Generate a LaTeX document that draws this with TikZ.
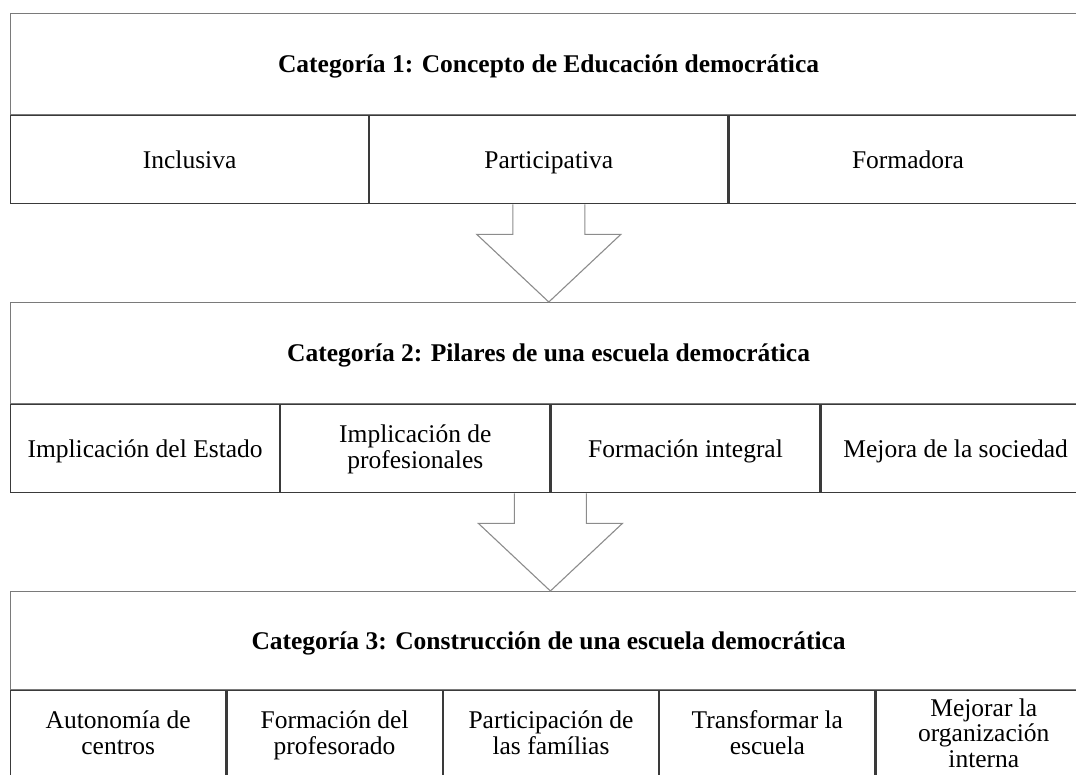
\documentclass[tikz,border=0pt]{standalone}
\usepackage{fontspec}
\setmainfont{Liberation Serif}
\usetikzlibrary{calc}
\definecolor{framegray}{HTML}{7A7A7A}
\definecolor{celldark}{HTML}{3A3A3A}
\definecolor{arrowgray}{HTML}{8C8C8C}
\newcommand{\lstrut}{\rule[-6pt]{0pt}{25.5pt}}
\begin{document}
\begin{tikzpicture}[x=1pt,y=-1pt,
  every node/.style={inner sep=0pt},
  titlebox/.style={draw=framegray, line width=1.2pt, anchor=north west,
    minimum width=1076pt, minimum height=101pt,
    text height=23pt, text depth=6pt,
    font=\fontsize{25.5}{25.5}\selectfont\bfseries},
  cell/.style={draw=celldark, line width=1.2pt, anchor=north west,
    minimum height=88pt, align=center,
    font=\fontsize{25.5}{25.5}\selectfont},
  oneline/.style={text height=23pt, text depth=6pt},
  blockarrow/.style={draw=arrowgray, line width=1.1pt, line join=miter}]
\useasboundingbox (0,0) rectangle (1076,775);
\clip (0,0) rectangle (1076,775);

% Category 1
\node[titlebox] (t1) at (10,13) {Categoría 1: Concepto de Educación democrática};
\node[cell, oneline, minimum width=358pt] (c11) at (t1.south west) {Inclusiva};
\node[cell, oneline, minimum width=358pt] (c12) at (c11.north east) {Participativa};
\node[cell, oneline, minimum width=358pt] (c13) at (c12.north east) {Formadora};

% Category 2
\node[titlebox] (t2) at (10,302) {Categoría 2: Pilares de una escuela democrática};
\node[cell, oneline, minimum width=269pt] (c21) at (t2.south west) {Implicación del Estado};
\node[cell, minimum width=269pt] (c22) at (c21.north east) {\lstrut Implicación de\\\lstrut profesionales};
\node[cell, oneline, minimum width=269pt] (c23) at (c22.north east) {Formación integral};
\node[cell, oneline, minimum width=269pt] (c24) at (c23.north east) {Mejora de la sociedad};

% Category 3
\node[titlebox, minimum height=98pt] (t3) at (10,591) {Categoría 3: Construcción de una escuela democrática};
\node[cell, minimum width=215.2pt] (c31) at (t3.south west) {\lstrut Autonomía de\\\lstrut centros};
\node[cell, minimum width=215.2pt] (c32) at (c31.north east) {\lstrut Formación del\\\lstrut profesorado};
\node[cell, minimum width=215.2pt] (c33) at (c32.north east) {\lstrut Participación de\\\lstrut las famílias};
\node[cell, minimum width=215.2pt] (c34) at (c33.north east) {\lstrut Transformar la\\\lstrut escuela};
\node[cell, minimum width=215.2pt] (c35) at (c34.north east) {\lstrut Mejorar la\\\lstrut organización\\\lstrut interna};

% Block arrows
\coordinate (a1) at ($(c11.south west)!0.5!(c13.south east)$);
\draw[blockarrow] ($(a1)+(-36,0)$) -- ($(a1)+(-36,30)$) -- ($(a1)+(-72,30)$)
  -- (a1 |- t2.north) -- ($(a1)+(72,30)$) -- ($(a1)+(36,30)$) -- ($(a1)+(36,0)$);
\coordinate (a2) at ($(c21.south west)!0.5!(c24.south east)$);
\draw[blockarrow] ($(a2)+(-36,0)$) -- ($(a2)+(-36,30)$) -- ($(a2)+(-72,30)$)
  -- (a2 |- t3.north) -- ($(a2)+(72,30)$) -- ($(a2)+(36,30)$) -- ($(a2)+(36,0)$);
\end{tikzpicture}
\end{document}
